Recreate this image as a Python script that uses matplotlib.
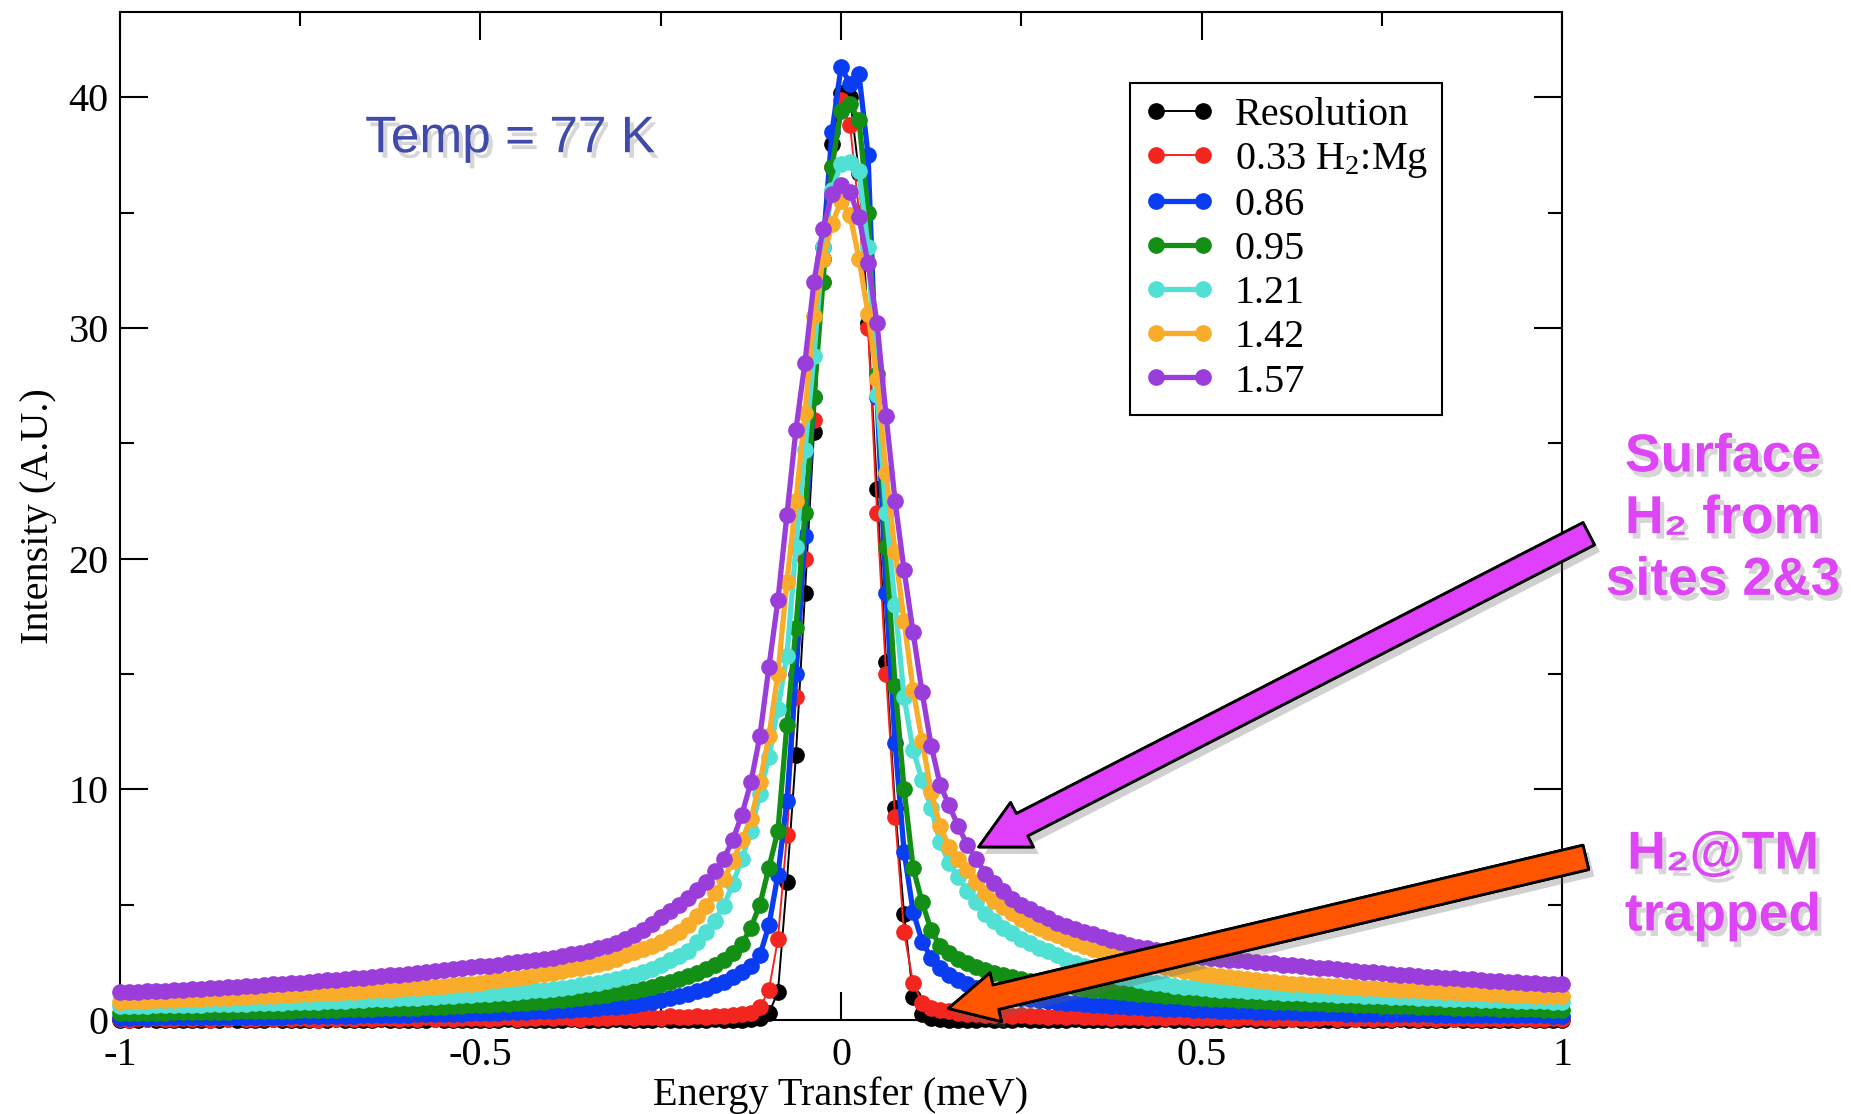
import numpy as np
import matplotlib
matplotlib.use("Agg")
import matplotlib.pyplot as plt
import matplotlib.patheffects as pe
from matplotlib.ticker import MultipleLocator

plt.rcParams['font.family'] = ['Liberation Serif', 'DejaVu Serif']
plt.rcParams['mathtext.fontset'] = 'custom'
plt.rcParams['mathtext.rm'] = 'Liberation Serif'
plt.rcParams['mathtext.it'] = 'Liberation Serif:italic'

# energy grid, meV (0.0125 meV steps)
energy = np.linspace(-1, 1, 161)

# intensities: left tail (-1..-0.1125), core (-0.1..0.1), right tail (0.1125..1)
resolution = [
    0.02, 0.00, 0.01, 0.03, 0.01, 0.00, 0.02, 0.01,
    0.00, 0.02, 0.01, 0.00, 0.03, 0.01, 0.02, 0.00,
    0.01, 0.03, 0.00, 0.02, 0.01, 0.00, 0.02, 0.01,
    0.03, 0.01, 0.00, 0.02, 0.01, 0.03, 0.00, 0.02,
    0.01, 0.00, 0.02, 0.03, 0.01, 0.00, 0.01, 0.02,
    0.00, 0.02, 0.01, 0.03, 0.00, 0.01, 0.02, 0.01,
    0.02, 0.00, 0.03, 0.01, 0.02, 0.00, 0.01, 0.03,
    0.01, 0.02, 0.00, 0.01, 0.03, 0.02, 0.00, 0.01,
    0.02, 0.01, 0.03, 0.00, 0.02, 0.01, 0.03, 0.08,
    0.30, 1.20, 6.00, 11.5, 18.5, 25.5, 33.0, 38.0, 40.2,
    40.0, 36.7, 30.2, 23.0, 15.5, 9.20, 4.60, 1.00,
    0.25, 0.08, 0.03, 0.01, 0.02, 0.00, 0.01, 0.03,
    0.00, 0.02, 0.01, 0.03, 0.00, 0.01, 0.02, 0.00,
    0.01, 0.03, 0.00, 0.02, 0.01, 0.00, 0.02, 0.01,
    0.02, 0.00, 0.01, 0.03, 0.01, 0.02, 0.00, 0.01,
    0.00, 0.02, 0.01, 0.00, 0.03, 0.01, 0.02, 0.00,
    0.01, 0.03, 0.00, 0.02, 0.01, 0.00, 0.02, 0.01,
    0.03, 0.01, 0.00, 0.02, 0.01, 0.03, 0.00, 0.02,
    0.01, 0.00, 0.02, 0.03, 0.01, 0.00, 0.01, 0.02,
    0.00, 0.02, 0.01, 0.03, 0.00, 0.01, 0.02, 0.01,
]

mg033 = [
    0.05, 0.02, 0.08, 0.04, 0.10, 0.03, 0.06, 0.09,
    0.04, 0.07, 0.02, 0.08, 0.05, 0.11, 0.04, 0.06,
    0.09, 0.03, 0.07, 0.05, 0.10, 0.06, 0.02, 0.08,
    0.06, 0.09, 0.04, 0.07, 0.03, 0.10, 0.08, 0.05,
    0.07, 0.04, 0.11, 0.06, 0.08, 0.03, 0.09, 0.07,
    0.10, 0.05, 0.08, 0.12, 0.06, 0.09, 0.07, 0.11,
    0.08, 0.12, 0.09, 0.06, 0.13, 0.10, 0.08, 0.14,
    0.11, 0.09, 0.15, 0.12, 0.10, 0.16, 0.13, 0.11,
    0.17, 0.14, 0.19, 0.16, 0.20, 0.24, 0.30, 0.55,
    1.30, 3.50, 8.00, 14.0, 20.0, 26.0, 32.0, 37.0, 39.9,
    38.8, 35.0, 30.0, 22.0, 15.0, 8.80, 3.80, 1.60,
    0.75, 0.50, 0.42, 0.38, 0.32, 0.28, 0.25, 0.22,
    0.20, 0.23, 0.18, 0.21, 0.16, 0.19, 0.15, 0.18,
    0.14, 0.17, 0.12, 0.15, 0.13, 0.10, 0.14, 0.11,
    0.13, 0.09, 0.12, 0.08, 0.11, 0.13, 0.07, 0.10,
    0.08, 0.11, 0.06, 0.09, 0.12, 0.07, 0.10, 0.05,
    0.09, 0.06, 0.10, 0.04, 0.08, 0.11, 0.05, 0.07,
    0.04, 0.09, 0.06, 0.08, 0.03, 0.07, 0.10, 0.05,
    0.07, 0.04, 0.08, 0.05, 0.09, 0.03, 0.06, 0.08,
    0.05, 0.07, 0.03, 0.08, 0.04, 0.06, 0.09, 0.04,
]

mg086 = [
    0.10, 0.10, 0.11, 0.10, 0.11, 0.11, 0.12, 0.11,
    0.12, 0.12, 0.12, 0.13, 0.13, 0.13, 0.14, 0.14,
    0.14, 0.15, 0.15, 0.16, 0.16, 0.17, 0.17, 0.18,
    0.18, 0.19, 0.19, 0.20, 0.21, 0.21, 0.22, 0.23,
    0.23, 0.24, 0.25, 0.26, 0.26, 0.27, 0.28, 0.29,
    0.30, 0.31, 0.32, 0.34, 0.35, 0.36, 0.38, 0.39,
    0.41, 0.43, 0.45, 0.47, 0.49, 0.52, 0.55, 0.58,
    0.62, 0.67, 0.72, 0.78, 0.86, 0.94, 1.03, 1.13,
    1.24, 1.36, 1.50, 1.66, 1.85, 2.08, 2.35, 2.80,
    4.10, 6.30, 9.50, 15.0, 21.0, 27.0, 33.5, 38.5, 41.3,
    40.6, 41.0, 37.5, 27.0, 18.5, 12.0, 7.30, 4.70,
    3.40, 2.70, 2.25, 1.95, 1.72, 1.54, 1.40, 1.28,
    1.18, 1.10, 1.03, 0.97, 0.92, 0.87, 0.83, 0.79,
    0.75, 0.72, 0.69, 0.66, 0.63, 0.61, 0.59, 0.57,
    0.55, 0.53, 0.51, 0.49, 0.48, 0.46, 0.45, 0.43,
    0.42, 0.41, 0.40, 0.38, 0.37, 0.36, 0.35, 0.34,
    0.33, 0.33, 0.32, 0.31, 0.30, 0.30, 0.29, 0.28,
    0.28, 0.27, 0.27, 0.26, 0.26, 0.25, 0.25, 0.24,
    0.24, 0.23, 0.23, 0.23, 0.22, 0.22, 0.22, 0.21,
    0.21, 0.21, 0.20, 0.20, 0.20, 0.20, 0.19, 0.19,
]

mg095 = [
    0.30, 0.30, 0.31, 0.31, 0.32, 0.32, 0.33, 0.33,
    0.34, 0.34, 0.35, 0.35, 0.36, 0.37, 0.37, 0.38,
    0.39, 0.39, 0.40, 0.41, 0.42, 0.42, 0.43, 0.44,
    0.45, 0.46, 0.47, 0.48, 0.49, 0.50, 0.51, 0.52,
    0.53, 0.54, 0.56, 0.57, 0.58, 0.60, 0.61, 0.63,
    0.65, 0.67, 0.69, 0.71, 0.73, 0.75, 0.78, 0.80,
    0.85, 0.88, 0.92, 0.96, 1.00, 1.05, 1.10, 1.15,
    1.20, 1.27, 1.35, 1.44, 1.55, 1.66, 1.78, 1.91,
    2.05, 2.20, 2.38, 2.60, 2.90, 3.30, 4.00, 5.00,
    6.60, 8.20, 12.8, 17.0, 22.0, 27.0, 32.0, 37.0, 39.4,
    39.7, 39.0, 35.0, 28.0, 20.5, 14.5, 10.0, 6.60,
    5.10, 3.90, 3.20, 2.90, 2.65, 2.45, 2.30, 2.17,
    2.05, 1.95, 1.85, 1.77, 1.70, 1.63, 1.57, 1.51,
    1.46, 1.41, 1.36, 1.32, 1.28, 1.24, 1.20, 1.17,
    1.14, 1.11, 1.08, 1.05, 1.02, 1.00, 0.97, 0.95,
    0.93, 0.91, 0.89, 0.87, 0.85, 0.83, 0.81, 0.80,
    0.78, 0.76, 0.75, 0.73, 0.72, 0.70, 0.69, 0.68,
    0.66, 0.65, 0.64, 0.62, 0.61, 0.60, 0.59, 0.58,
    0.57, 0.56, 0.55, 0.54, 0.53, 0.52, 0.51, 0.50,
    0.49, 0.48, 0.48, 0.47, 0.46, 0.45, 0.44, 0.43,
]

mg121 = [
    0.60, 0.61, 0.61, 0.62, 0.63, 0.64, 0.64, 0.65,
    0.66, 0.67, 0.68, 0.68, 0.69, 0.70, 0.71, 0.72,
    0.73, 0.74, 0.75, 0.76, 0.78, 0.79, 0.80, 0.81,
    0.83, 0.84, 0.86, 0.87, 0.89, 0.90, 0.92, 0.94,
    0.95, 0.97, 0.99, 1.01, 1.03, 1.05, 1.07, 1.09,
    1.12, 1.14, 1.17, 1.19, 1.22, 1.25, 1.28, 1.31,
    1.36, 1.40, 1.45, 1.50, 1.56, 1.62, 1.69, 1.77,
    1.86, 1.96, 2.08, 2.22, 2.40, 2.58, 2.78, 3.00,
    3.40, 3.80, 4.30, 4.95, 5.90, 7.00, 8.20, 9.80,
    11.4, 13.5, 15.8, 20.5, 24.7, 28.8, 33.5, 36.0, 37.1,
    37.2, 36.8, 33.5, 27.1, 22.0, 18.0, 14.0, 11.7,
    10.4, 9.20, 7.70, 6.80, 6.20, 5.60, 5.10, 4.60,
    4.30, 4.00, 3.75, 3.52, 3.32, 3.14, 2.97, 2.82,
    2.62, 2.46, 2.32, 2.19, 2.07, 1.97, 1.88, 1.80,
    1.73, 1.66, 1.60, 1.54, 1.49, 1.45, 1.41, 1.38,
    1.35, 1.32, 1.30, 1.28, 1.26, 1.24, 1.22, 1.20,
    1.19, 1.17, 1.16, 1.14, 1.13, 1.11, 1.10, 1.08,
    1.07, 1.05, 1.04, 1.03, 1.01, 1.00, 0.99, 0.97,
    0.96, 0.95, 0.93, 0.92, 0.91, 0.90, 0.88, 0.87,
    0.86, 0.85, 0.84, 0.83, 0.82, 0.81, 0.80, 0.79,
]

mg142 = [
    0.80, 0.81, 0.83, 0.84, 0.85, 0.87, 0.88, 0.90,
    0.91, 0.93, 0.94, 0.96, 0.97, 0.99, 1.00, 1.02,
    1.04, 1.06, 1.07, 1.09, 1.11, 1.13, 1.15, 1.17,
    1.19, 1.21, 1.23, 1.25, 1.28, 1.30, 1.32, 1.35,
    1.37, 1.40, 1.42, 1.45, 1.48, 1.51, 1.54, 1.57,
    1.62, 1.67, 1.72, 1.77, 1.82, 1.87, 1.93, 1.99,
    2.05, 2.12, 2.19, 2.27, 2.35, 2.44, 2.53, 2.63,
    2.80, 2.93, 3.07, 3.22, 3.40, 3.60, 3.83, 4.10,
    4.50, 4.95, 5.50, 6.10, 6.90, 7.80, 8.70, 10.3,
    12.3, 15.0, 19.0, 22.5, 26.3, 30.5, 33.0, 34.5, 35.5,
    34.9, 33.0, 30.6, 27.8, 23.7, 20.3, 17.3, 14.3,
    12.1, 9.90, 8.40, 7.50, 7.00, 6.50, 6.00, 5.50,
    5.15, 4.88, 4.62, 4.38, 4.16, 3.98, 3.82, 3.67,
    3.50, 3.35, 3.21, 3.08, 2.96, 2.85, 2.74, 2.64,
    2.55, 2.46, 2.37, 2.29, 2.21, 2.14, 2.07, 2.01,
    1.95, 1.90, 1.85, 1.80, 1.76, 1.72, 1.68, 1.64,
    1.61, 1.58, 1.55, 1.52, 1.50, 1.48, 1.46, 1.44,
    1.42, 1.40, 1.38, 1.36, 1.34, 1.32, 1.30, 1.28,
    1.26, 1.24, 1.22, 1.20, 1.18, 1.17, 1.15, 1.13,
    1.12, 1.10, 1.09, 1.07, 1.06, 1.04, 1.03, 1.02,
]

mg157 = [
    1.20, 1.21, 1.23, 1.24, 1.26, 1.27, 1.29, 1.31,
    1.33, 1.35, 1.37, 1.39, 1.42, 1.44, 1.46, 1.49,
    1.52, 1.54, 1.57, 1.59, 1.62, 1.65, 1.68, 1.72,
    1.75, 1.78, 1.81, 1.84, 1.87, 1.90, 1.93, 1.96,
    2.00, 2.04, 2.08, 2.12, 2.16, 2.20, 2.24, 2.28,
    2.32, 2.36, 2.40, 2.45, 2.50, 2.55, 2.60, 2.65,
    2.70, 2.76, 2.84, 2.92, 3.00, 3.10, 3.20, 3.33,
    3.50, 3.70, 3.90, 4.15, 4.45, 4.72, 5.00, 5.30,
    5.65, 6.00, 6.45, 7.00, 7.80, 8.90, 10.3, 12.3,
    15.3, 18.2, 21.9, 25.6, 28.5, 32.0, 34.3, 35.8, 36.2,
    35.9, 34.8, 32.8, 30.2, 26.2, 22.5, 19.5, 16.8,
    14.2, 11.9, 10.2, 9.30, 8.40, 7.60, 7.00, 6.35,
    5.95, 5.60, 5.25, 5.00, 4.80, 4.60, 4.40, 4.20,
    4.08, 3.95, 3.83, 3.72, 3.60, 3.48, 3.37, 3.25,
    3.18, 3.10, 3.05, 2.98, 2.92, 2.86, 2.80, 2.75,
    2.70, 2.66, 2.62, 2.58, 2.55, 2.51, 2.48, 2.45,
    2.40, 2.37, 2.33, 2.30, 2.27, 2.24, 2.20, 2.17,
    2.13, 2.10, 2.06, 2.03, 2.00, 1.97, 1.94, 1.91,
    1.88, 1.86, 1.83, 1.81, 1.78, 1.76, 1.73, 1.70,
    1.68, 1.66, 1.64, 1.62, 1.60, 1.58, 1.56, 1.55,
]

series = [resolution, mg033, mg086, mg095, mg121, mg142, mg157]
labels = ['Resolution', '0.33 H$_2$:Mg', '0.86', '0.95', '1.21', '1.42', '1.57']
colors = ['black', '#f3261f', '#0a3cf2', '#138f16', '#50e0d4', '#f8ac2a', '#9b3ddb']
widths = [1.4, 1.4, 3.8, 3.8, 3.8, 3.8, 3.8]

fig = plt.figure(figsize=(18.51, 11.14), dpi=100)
ax = fig.add_axes([0.0648, 0.0844, 0.7791, 0.9048])

for y, lab, c, lw in zip(series, labels, colors, widths):
    ax.plot(energy, y, '-o', color=c, lw=lw, ms=11, label=lab,
            clip_on=False, zorder=3)

ax.set_xlim(-1, 1)
ax.set_ylim(0, 43.7)
ax.set_xticks([-1, -0.5, 0, 0.5, 1], ['-1', '-0.5', '0', '0.5', '1'])
ax.set_yticks([0, 10, 20, 30, 40], ['0', '10', '20', '30', '40'])
ax.xaxis.set_minor_locator(MultipleLocator(0.25))
ax.yaxis.set_minor_locator(MultipleLocator(5))
ax.tick_params(which='both', direction='in', top=True, right=True,
               width=1.5, labelsize=29)
ax.tick_params(which='major', length=20)
ax.tick_params(which='minor', length=10)
ax.tick_params(axis='x', pad=12)
ax.tick_params(axis='y', pad=8)
for s in ax.spines.values():
    s.set_linewidth(1.5)

ax.set_xlabel('Energy Transfer (meV)', fontsize=29, labelpad=2)
ax.set_ylabel('Intensity (A.U.)', fontsize=29, labelpad=8)

leg = ax.legend(loc='upper left', bbox_to_anchor=(0.7004, 0.9296),
                borderaxespad=0, fontsize=29, numpoints=2, handlelength=1.75,
                handletextpad=0.5, labelspacing=0.17, borderpad=0.35,
                fancybox=False, framealpha=1, edgecolor='black')
leg.get_frame().set_linewidth(1.5)

shadow = [pe.withSimplePatchShadow(offset=(3, -4), shadow_rgbFace='0.55', alpha=0.35)]

fig.text(0.2755, 0.8755, 'Temp = 77 K', family='Liberation Sans', fontsize=37,
         color='#3f4aaa', ha='center', va='center', path_effects=shadow)

fig.text(0.9309, 0.534, 'Surface\nH\u2082 from\nsites 2&3',
         family=['Liberation Sans', 'DejaVu Sans'], weight='bold', fontsize=38.5,
         color='#de45f7', ha='center', va='center', linespacing=1.3,
         path_effects=shadow)
fig.text(0.9309, 0.2051, 'H\u2082@TM\ntrapped',
         family=['Liberation Sans', 'DejaVu Sans'], weight='bold', fontsize=38.5,
         color='#de45f7', ha='center', va='center', linespacing=1.3,
         path_effects=shadow)

arrow_style = 'simple,head_length=3.5,head_width=3.6,tail_width=1.8'
arrow_shadow = [pe.withSimplePatchShadow(offset=(4, -5), shadow_rgbFace='0.4', alpha=0.3), pe.Normal()]
ax.annotate('', xy=(0.191, 7.5), xytext=(1.037, 21.08), annotation_clip=False,
            zorder=10,
            arrowprops=dict(arrowstyle=arrow_style, mutation_scale=10,
                            fc='#e040fb', ec='black', lw=2, shrinkA=0, shrinkB=0,
                            path_effects=arrow_shadow))
ax.annotate('', xy=(0.149, 0.5), xytext=(1.033, 7.05), annotation_clip=False,
            zorder=10,
            arrowprops=dict(arrowstyle=arrow_style, mutation_scale=10,
                            fc='#ff5500', ec='black', lw=2, shrinkA=0, shrinkB=0,
                            path_effects=arrow_shadow))

fig.savefig('out.png', dpi=100)
